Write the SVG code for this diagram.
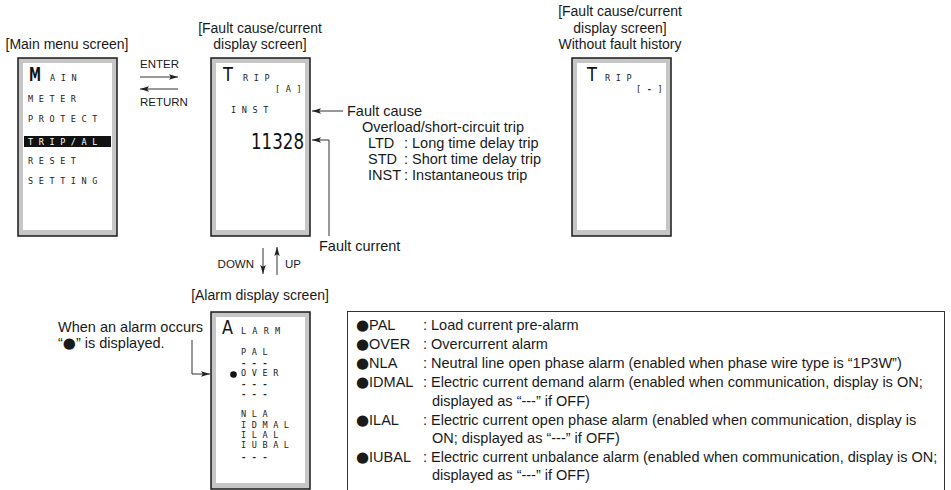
<svg xmlns="http://www.w3.org/2000/svg" width="951" height="490" viewBox="0 0 951 490">
<style>
  .t { font-family: "Liberation Sans", Arial, sans-serif; font-size: 14.5px; fill: #1a1a1a; }
  .ttl { font-family: "Liberation Sans", Arial, sans-serif; font-size: 14px; fill: #1a1a1a; text-anchor: middle; }
  .sm { font-family: "Liberation Sans", Arial, sans-serif; font-size: 11.5px; fill: #1a1a1a; }
  .lcd { font-family: "DejaVu Sans Mono", "Liberation Mono", monospace; font-size: 8.5px; letter-spacing: 5.6px; fill: #222; }
  .dash { font-family: "DejaVu Sans Mono", "Liberation Mono", monospace; font-size: 9px; font-weight: bold; letter-spacing: 5.2px; fill: #222; }
  .big { font-family: "DejaVu Sans", sans-serif; font-size: 19px; fill: #111; }
  .num { font-family: "DejaVu Sans", sans-serif; font-size: 22px; fill: #111; }
  .frame { fill: #c6c6c6; stroke: #1a1a1a; stroke-width: 1.5; }
  .scr { fill: #ffffff; }
  .ln { stroke: #333; stroke-width: 1; fill: none; }
  .bul { font-family: "DejaVu Sans", sans-serif; font-size: 15px; }
</style>
<defs>
  <marker id="ah" viewBox="0 0 10 6" refX="10" refY="3" markerWidth="9" markerHeight="5.5" markerUnits="userSpaceOnUse" orient="auto">
    <path d="M0,0 L10,3 L0,6 L2,3 z" fill="#222"/>
  </marker>
</defs>

<!-- Main menu screen -->
<g id="main-menu">
  <text class="ttl" x="67" y="49">[Main menu screen]</text>
  <rect class="frame" x="18" y="58" width="99" height="178"/>
  <rect class="scr" x="23" y="63" width="89" height="167"/>
  <text class="big" x="29" y="81" textLength="12" lengthAdjust="spacingAndGlyphs" style="font-weight:bold">M</text>
  <text class="lcd" x="50" y="81">AIN</text>
  <text class="lcd" x="28" y="102">METER</text>
  <text class="lcd" x="28" y="122">PROTECT</text>
  <rect x="24" y="136" width="87" height="11" fill="#111"/>
  <text class="lcd" x="28" y="144.5" style="fill:#fff">TRIP/AL</text>
  <text class="lcd" x="28" y="164">RESET</text>
  <text class="lcd" x="28" y="184">SETTING</text>
</g>

<!-- Fault cause/current display screen -->
<g id="fault-screen">
  <text class="ttl" x="260" y="33">[Fault cause/current</text>
  <text class="ttl" x="260" y="49">display screen]</text>
  <rect class="frame" x="211" y="58" width="99" height="178"/>
  <rect class="scr" x="216" y="63" width="89" height="167"/>
  <text class="big" x="223" y="81" textLength="10" lengthAdjust="spacingAndGlyphs">T</text>
  <text class="lcd" x="243" y="81">RIP</text>
  <text class="lcd" x="275" y="92">[A]</text>
  <text class="lcd" x="231" y="113">INST</text>
  <text class="num" x="251" y="149" textLength="53" lengthAdjust="spacingAndGlyphs">11328</text>
</g>

<!-- Without fault history screen -->
<g id="no-history-screen">
  <text class="ttl" x="620" y="16">[Fault cause/current</text>
  <text class="ttl" x="620" y="33">display screen]</text>
  <text class="ttl" x="620" y="49">Without fault history</text>
  <rect class="frame" x="572" y="58" width="99" height="178"/>
  <rect class="scr" x="577" y="63" width="89" height="167"/>
  <text class="big" x="587" y="81" textLength="10" lengthAdjust="spacingAndGlyphs">T</text>
  <text class="lcd" x="605" y="81">RIP</text>
  <text class="lcd" x="636" y="92">[<tspan style="font-weight:bold">-</tspan>]</text>
</g>

<!-- Alarm display screen -->
<g id="alarm-screen">
  <text class="ttl" x="260" y="300">[Alarm display screen]</text>
  <rect class="frame" x="211" y="312" width="99" height="177"/>
  <rect class="scr" x="216" y="317" width="89" height="166"/>
  <text class="big" x="222" y="334" textLength="11" lengthAdjust="spacingAndGlyphs">A</text>
  <text class="lcd" x="241" y="334" style="letter-spacing:6.2px">LARM</text>
  <text class="lcd" x="241" y="355">PAL</text>
  <text class="dash" x="241" y="366">---</text>
  <circle cx="233.5" cy="374.5" r="3.3" fill="#111"/>
  <text class="lcd" x="241" y="376">OVER</text>
  <text class="dash" x="241" y="387">---</text>
  <text class="dash" x="241" y="397">---</text>
  <text class="lcd" x="241" y="417">NLA</text>
  <text class="lcd" x="241" y="428">IDMAL</text>
  <text class="lcd" x="241" y="438">ILAL</text>
  <text class="lcd" x="241" y="448">IUBAL</text>
  <text class="dash" x="241" y="460">---</text>
</g>

<!-- Labels -->
<g id="labels">
  <text class="sm" x="140" y="68">ENTER</text>
  <text class="sm" x="140" y="106">RETURN</text>
  <text class="sm" x="254" y="268" text-anchor="end">DOWN</text>
  <text class="sm" x="285" y="268">UP</text>
  <text class="t" x="347" y="116">Fault cause</text>
  <text class="t" x="362" y="132">Overload/short-circuit trip</text>
  <text class="t" x="368" y="148">LTD<tspan x="404">: Long time delay trip</tspan></text>
  <text class="t" x="368" y="164">STD<tspan x="404">: Short time delay trip</tspan></text>
  <text class="t" x="368" y="180">INST<tspan x="404">: Instantaneous trip</tspan></text>
  <text class="t" x="319" y="251">Fault current</text>
  <text class="t" x="58" y="332">When an alarm occurs</text>
  <text class="t" x="58" y="348">“<tspan class="bul">●</tspan>” is displayed.</text>
</g>

<!-- Legend -->
<g id="legend">
  <rect x="347.5" y="311.5" width="597" height="190" fill="none" stroke="#333" stroke-width="1"/>
  <text class="t" x="356" y="330"><tspan class="bul">●</tspan>PAL<tspan x="423">: Load current pre-alarm</tspan></text>
  <text class="t" x="356" y="349"><tspan class="bul">●</tspan>OVER<tspan x="423">: Overcurrent alarm</tspan></text>
  <text class="t" x="356" y="368"><tspan class="bul">●</tspan>NLA<tspan x="423">: Neutral line open phase alarm (enabled when phase wire type is “1P3W”)</tspan></text>
  <text class="t" x="356" y="387"><tspan class="bul">●</tspan>IDMAL<tspan x="423">: Electric current demand alarm (enabled when communication, display is ON;</tspan></text>
  <text class="t" x="432" y="406">displayed as “---” if OFF)</text>
  <text class="t" x="356" y="425"><tspan class="bul">●</tspan>ILAL<tspan x="423">: Electric current open phase alarm (enabled when communication, display is</tspan></text>
  <text class="t" x="432" y="443">ON; displayed as “---” if OFF)</text>
  <text class="t" x="356" y="462"><tspan class="bul">●</tspan>IUBAL<tspan x="423">: Electric current unbalance alarm (enabled when communication, display is ON;</tspan></text>
  <text class="t" x="432" y="480">displayed as “---” if OFF)</text>
</g>

<!-- Connectors -->
<g id="connectors">
  <line class="ln" x1="140" y1="77" x2="178" y2="77" marker-end="url(#ah)"/>
  <line class="ln" x1="178" y1="89" x2="140" y2="89" marker-end="url(#ah)"/>
  <line class="ln" x1="263" y1="248" x2="263" y2="274" marker-end="url(#ah)"/>
  <line class="ln" x1="277" y1="275" x2="277" y2="247" marker-end="url(#ah)"/>
  <line class="ln" x1="343" y1="111" x2="312" y2="111" marker-end="url(#ah)"/>
  <path class="ln" d="M329,236 V140 H312" marker-end="url(#ah)"/>
  <path class="ln" d="M192,340 V374 H210" marker-end="url(#ah)"/>
</g>
</svg>
